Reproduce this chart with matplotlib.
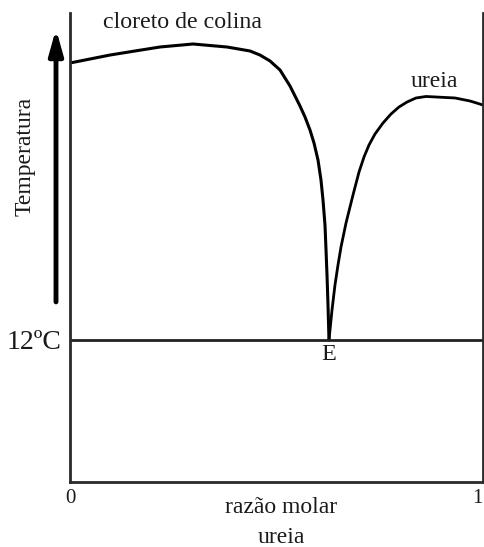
import matplotlib
matplotlib.use("Agg")
import matplotlib.pyplot as plt

# data (arbitrary temperature units, 0 = bottom of plot)
x_colina = [0.0, 0.0484, 0.0969, 0.1574, 0.2179, 0.2978, 0.3801, 0.4358, 0.4600, 0.4843,
            0.5085, 0.5327, 0.5569, 0.5690, 0.5811, 0.5908, 0.6005, 0.6077, 0.6126, 0.6174,
            0.6199, 0.6223, 0.6247, 0.6271]
t_colina = [89.34, 90.19, 91.04, 91.90, 92.75, 93.39, 92.75, 91.90, 91.04, 89.77,
            87.85, 84.43, 80.17, 77.83, 75.05, 72.28, 68.66, 64.39, 60.13, 54.80,
            49.47, 44.14, 37.74, 30.28]
x_ureia = [0.6271, 0.6344, 0.6416, 0.6489, 0.6562, 0.6683, 0.6852, 0.6998, 0.7119, 0.7240,
           0.7385, 0.7579, 0.7772, 0.7966, 0.8160, 0.8378, 0.8620, 0.8862, 0.9322, 0.9685, 1.0]
t_ureia = [30.28, 36.67, 42.00, 46.27, 50.11, 55.22, 61.19, 66.10, 69.30, 71.86,
           74.20, 76.55, 78.46, 79.96, 81.02, 81.88, 82.20, 82.09, 81.88, 81.24, 80.38]
t_eutectic = 30.28
x_ticks = [0, 1]
x_ticklabels = ["0", "1"]

plt.rcParams["font.family"] = ["Liberation Serif", "DejaVu Serif"]
fig = plt.figure(figsize=(4.84, 5.47), dpi=100)
ax = fig.add_axes([70/484, 65/547, 413/484, 469/547])
ax.set_xlim(0, 1)
ax.set_ylim(0, 100)

tc = "#1a1a1a"
ax.plot(x_colina, t_colina, color="black", lw=2.2, solid_capstyle="round", solid_joinstyle="round")
ax.plot(x_ureia, t_ureia, color="black", lw=2.0, solid_capstyle="round", solid_joinstyle="round")
ax.axhline(t_eutectic, color="#222222", lw=2.0)

for s in ["left", "bottom", "right"]:
    ax.spines[s].set_color("#2a2a2a")
    ax.spines[s].set_linewidth(2.0)
ax.spines["top"].set_visible(False)

ax.set_xticks(x_ticks)
ax.set_xticklabels(x_ticklabels, fontsize=15, color=tc)
ax.get_xticklabels()[1].set_horizontalalignment("right")
ax.tick_params(axis="x", length=0, pad=5)
ax.set_yticks([t_eutectic])
ax.set_yticklabels(["12ºC"], fontsize=20, color=tc)
ax.tick_params(axis="y", length=0, pad=6)

ax.text(0.511, -0.0554, "razão molar", transform=ax.transAxes, ha="center", va="center",
        fontsize=17, color=tc)
ax.text(0.511, -0.1194, "ureia", transform=ax.transAxes, ha="center", va="center",
        fontsize=17, color=tc)
ax.text(-0.109, 0.694, "Temperatura", transform=ax.transAxes, rotation=90,
        ha="center", va="center", fontsize=17, color=tc)
ax.text(0.08, 0.98, "cloreto de colina", transform=ax.transAxes, ha="left", va="center",
        fontsize=17.2, color=tc)
ax.text(0.825, 0.855, "ureia", transform=ax.transAxes, ha="left", va="center",
        fontsize=17, color=tc)
ax.text(0.627, t_eutectic - 3.1, "E", ha="center", va="center", fontsize=17.5, color=tc)

ax.annotate("", xy=(-0.0339, 0.966), xytext=(-0.0339, 0.384),
            xycoords="axes fraction", textcoords="axes fraction",
            arrowprops=dict(arrowstyle="-|>,head_length=1.5,head_width=0.42", color="black",
                            lw=3.5, shrinkA=0, shrinkB=0), annotation_clip=False)

fig.savefig("out.png", dpi=100)
